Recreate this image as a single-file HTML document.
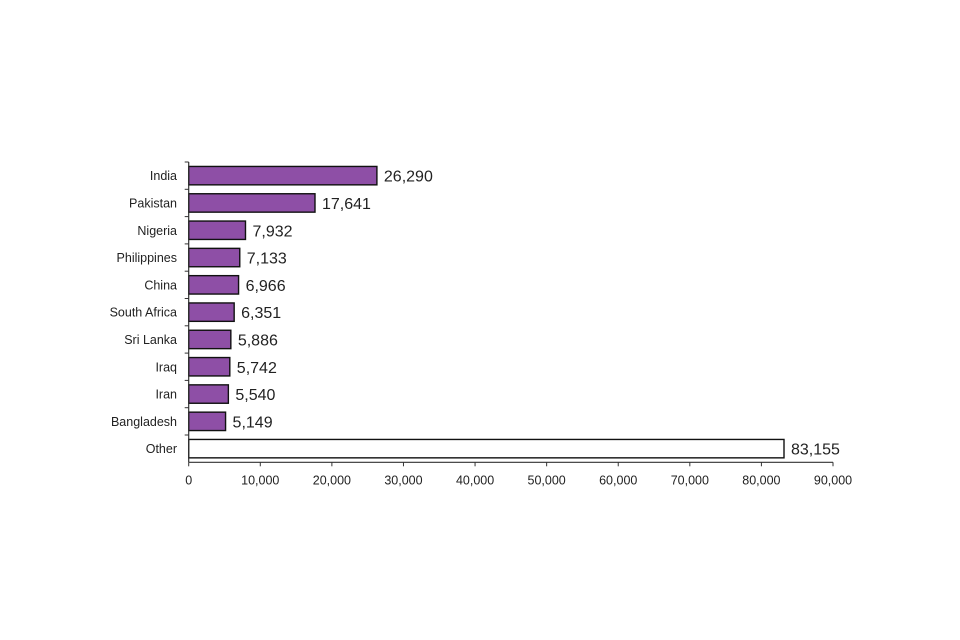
<!DOCTYPE html>
<html><head><meta charset="utf-8"><style>
html,body{margin:0;padding:0;background:#fff;}
svg{display:block;font-family:"Liberation Sans",Arial,sans-serif;}
</style></head><body>
<svg id="chart" width="960" height="640"></svg>
<script>
const categories=["India","Pakistan","Nigeria","Philippines","China","South Africa","Sri Lanka","Iraq","Iran","Bangladesh","Other"];
const values=[26290,17641,7932,7133,6966,6351,5886,5742,5540,5149,83155];
const valueLabels=["26,290","17,641","7,932","7,133","6,966","6,351","5,886","5,742","5,540","5,149","83,155"];
const ticks=[0,10000,20000,30000,40000,50000,60000,70000,80000,90000];
const tickLabels=["0","10,000","20,000","30,000","40,000","50,000","60,000","70,000","80,000","90,000"];
const NS="http://www.w3.org/2000/svg";
const svgEl=document.getElementById('chart');
const x0=188.7,x1=833,yTop=162,band=27.3;
const xs=v=>x0+(v/90000)*(x1-x0);
const yb=i=>yTop+i*band;
const yBottom=yb(categories.length);
function mk(t,a,txt){const e=document.createElementNS(NS,t);for(const k in a)e.setAttribute(k,a[k]);if(txt!==undefined)e.textContent=txt;svgEl.appendChild(e);return e;}
categories.forEach((c,i)=>{
  const cy=yb(i)+band/2;
  const b=mk('rect',{x:xs(0),y:cy-9.2,width:xs(values[i])-xs(0),height:18.4,fill:c==="Other"?"#fff":"#8e4fa6",stroke:"#111","stroke-width":1.4});
  
  
  const l=mk('text',{x:177,y:cy+4.5,"text-anchor":"end","font-size":12.5,fill:"#222"},c);
  
  
  const v=mk('text',{x:xs(values[i])+7,y:cy+6,"font-size":16,fill:"#222"},valueLabels[i]);
  
  
  const t=mk('line',{x1:x0-4,x2:x0,y1:yb(i),y2:yb(i),stroke:"#333"});
  
  
});
const ya=mk('line',{x1:x0,x2:x0,y1:yTop,y2:yBottom,stroke:"#333","stroke-width":1.2});


const xa=mk('line',{x1:x0,x2:x1,y1:yBottom,y2:yBottom,stroke:"#333","stroke-width":1.2});


ticks.forEach((t,i)=>{
  const tk=mk('line',{x1:xs(t),x2:xs(t),y1:yBottom,y2:yBottom+4,stroke:"#333"});
  
  
  const tl=mk('text',{x:xs(t),y:yBottom+22,"text-anchor":"middle","font-size":12.5,fill:"#222"},tickLabels[i]);
  
  
});
</script>
</body></html>
